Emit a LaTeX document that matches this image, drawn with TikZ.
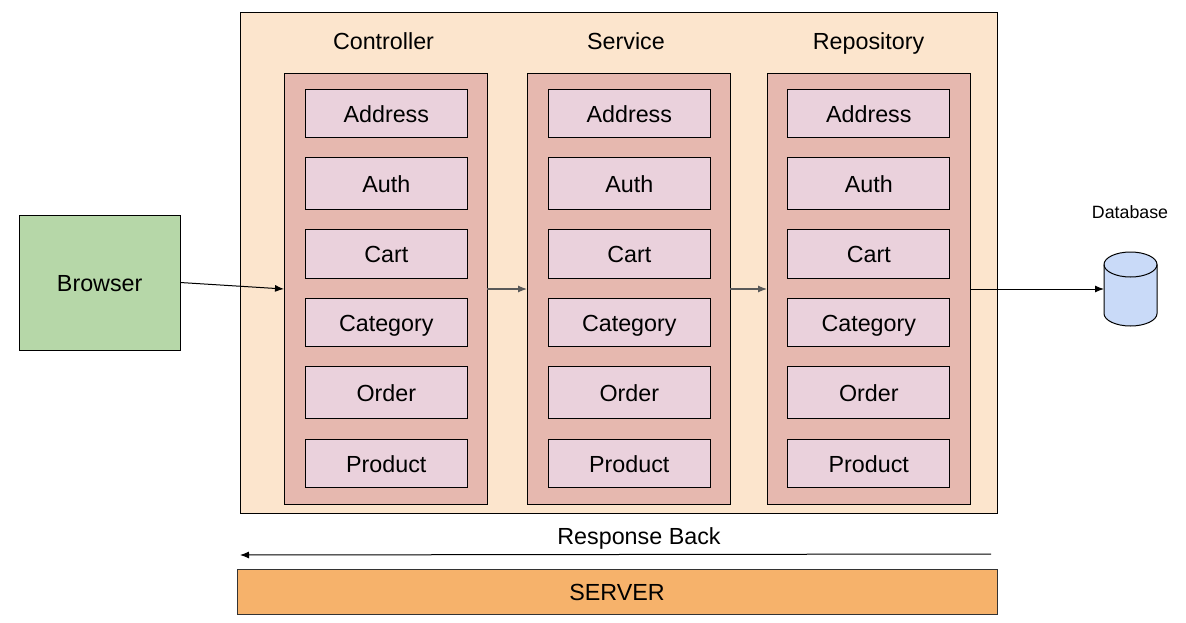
\documentclass[tikz,border=0pt]{standalone}
\usepackage{fontspec}
\setmainfont{Liberation Sans}
\usetikzlibrary{arrows.meta}
\definecolor{outerfill}{HTML}{FCE5CD}
\definecolor{colfill}{HTML}{E6B8AF}
\definecolor{itemfill}{HTML}{EAD1DC}
\definecolor{browserfill}{HTML}{B6D7A8}
\definecolor{serverfill}{HTML}{F6B26B}
\definecolor{dbfill}{HTML}{C9DAF8}
\definecolor{grayline}{HTML}{595959}
\tikzset{
  box/.style={draw=black,line width=1pt,inner sep=0pt,outer sep=0pt,text height=18.6pt,text depth=0pt,font=\fontsize{23.3}{26}\selectfont},
  outerbox/.style={box,fill=outerfill,minimum width=757pt,minimum height=500pt},
  colbox/.style={box,fill=colfill,minimum width=203pt,minimum height=430pt},
  itembox/.style={box,fill=itemfill,minimum width=162pt},
  browserbox/.style={box,fill=browserfill,minimum width=161pt,minimum height=135pt},
  serverbox/.style={box,fill=serverfill,minimum width=760pt,minimum height=45pt,draw=black!80},
  dbanchor/.style={inner sep=0pt,outer sep=0pt,minimum width=53pt,minimum height=74pt},
  dbline/.style={draw=black,line width=1pt,fill=dbfill},
  label/.style={inner sep=0pt,text height=16.8pt,text depth=0pt,font=\fontsize{23.3}{26}\selectfont},
  smalllabel/.style={inner sep=0pt,text height=12.8pt,text depth=0pt,font=\fontsize{17.8}{20}\selectfont},
  conn/.style={line width=1pt,draw=black,-{Latex[length=9pt,width=7pt]}},
  connthin/.style={line width=1.2pt,draw=grayline,-{Latex[length=9pt,width=7pt]}},
}
\begin{document}
\begin{tikzpicture}[x=1pt,y=-1pt]
\useasboundingbox (0,0) rectangle (1186,623);
\node[outerbox] (outer) at (618.5,263) {};
\node[label] (tC) at (383.5,41) {Controller};
\node[label] (tS) at (626,41) {Service};
\node[label] (tR) at (868.5,41) {Repository};
\node[colbox] (colC) at (385.5,289) {};
\node[colbox] (colS) at (628.5,289) {};
\node[colbox] (colR) at (868.5,289) {};
\foreach \c/\x in {C/386.3,S/629.3,R/868.8}{
  \node[itembox,minimum height=48pt] (\c a) at (\x,113.3) {Address};
  \node[itembox,minimum height=52pt] (\c b) at (\x,183.3) {Auth};
  \node[itembox,minimum height=49pt] (\c c) at (\x,253.5) {Cart};
  \node[itembox,minimum height=48pt] (\c d) at (\x,322.3) {Category};
  \node[itembox,minimum height=52pt] (\c e) at (\x,392.3) {Order};
  \node[itembox,minimum height=48pt] (\c f) at (\x,463) {Product};
}
\node[browserbox] (browser) at (99.7,282.5) {Browser};
\node[serverbox] (server) at (617,591.5) {SERVER};
\node[dbanchor] (db) at (1130.5,289) {};
\draw[dbline] ([yshift=-12.5pt]db.north west)
  -- ([yshift=12.5pt]db.south west)
  .. controls ([yshift=5.6pt]db.south west) and ([xshift=-14.6pt]db.south) .. (db.south)
  .. controls ([xshift=14.6pt]db.south) and ([yshift=5.6pt]db.south east) .. ([yshift=12.5pt]db.south east)
  -- ([yshift=-12.5pt]db.north east)
  .. controls ([yshift=-5.6pt]db.north east) and ([xshift=14.6pt]db.north) .. (db.north)
  .. controls ([xshift=-14.6pt]db.north) and ([yshift=-5.6pt]db.north west) .. ([yshift=-12.5pt]db.north west)
  -- cycle;
\draw[dbline,fill=none] ([yshift=-12.5pt]db.north west)
  .. controls ([yshift=-19.4pt]db.north west) and ([xshift=-14.6pt,yshift=-25pt]db.north) .. ([yshift=-25pt]db.north)
  .. controls ([xshift=14.6pt,yshift=-25pt]db.north) and ([yshift=-19.4pt]db.north east) .. ([yshift=-12.5pt]db.north east);
\node[smalllabel] (tDb) at (1130,212) {Database};
\node[label] (tResp) at (639,536) {Response Back};
\coordinate (respStart) at (991,554);
\coordinate (respEnd) at (240,555);
\draw[conn] (browser.east) -- (colC.west);
\draw[connthin] (colC.east) -- (colS.west);
\draw[connthin] (colS.east) -- (colR.west);
\draw[conn] (colR.east) -- (db.west);
\draw[conn] (respStart) -- (respEnd);
\end{tikzpicture}
\end{document}
